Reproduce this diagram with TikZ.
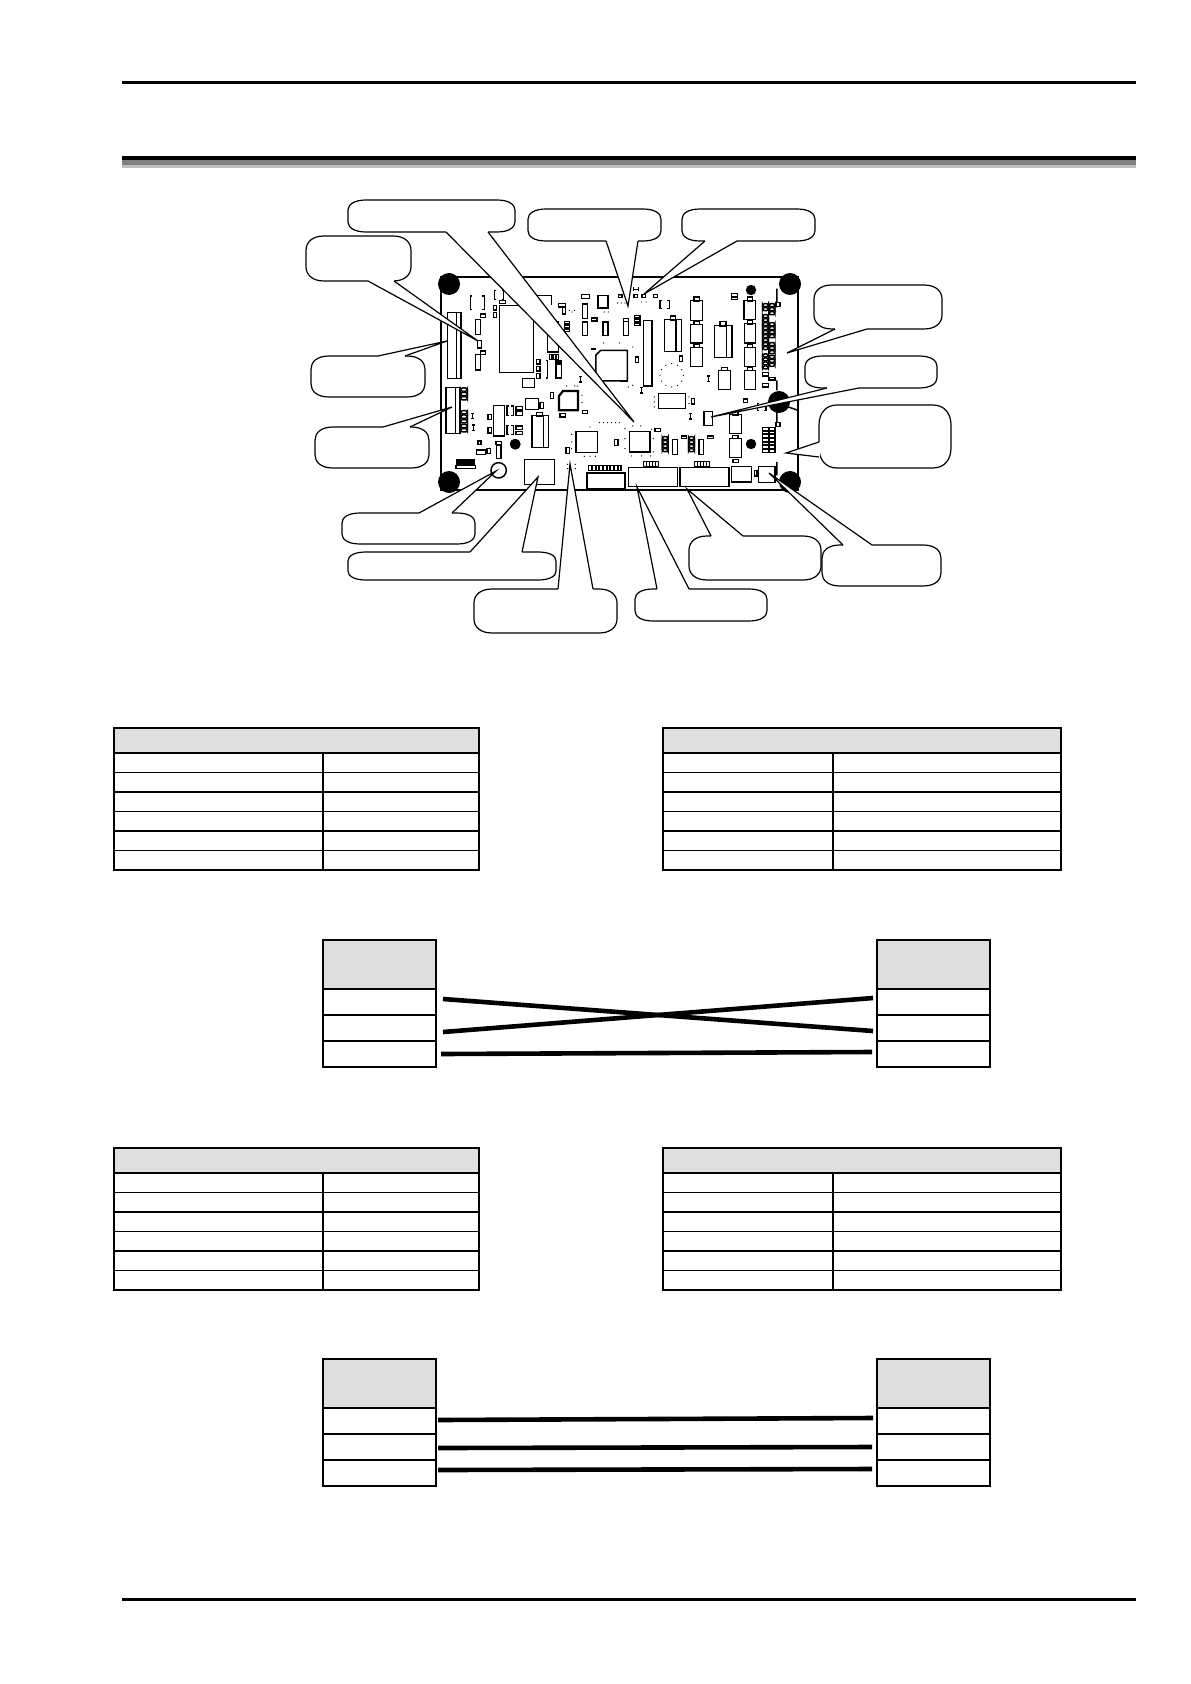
\documentclass[tikz,border=0pt]{standalone}
\usepackage{tikz}
\usetikzlibrary{positioning,calc}
\tikzset{part/.style={draw=black,line width=.75pt},
	hole/.style={fill=black},
	bubble/.style={draw=black,fill=white,line width=.6pt},
	leader/.style={draw=black,line width=.6pt,line join=miter},
	wire/.style={draw=black,line width=2.3pt},
	tablecell/.style={rectangle,draw=black,line width=.55pt,inner sep=0pt,outer sep=0pt,minimum height=9.75pt},
	tablehead/.style={tablecell,fill=black!12,minimum height=12.5pt},
	pinhead/.style={rectangle,draw=black,fill=black!13,line width=.55pt,inner sep=0pt,outer sep=0pt,minimum width=56.5pt,minimum height=24.5pt},
	pincell/.style={rectangle,draw=black,line width=.55pt,inner sep=0pt,outer sep=0pt,minimum width=56.5pt,minimum height=13pt},
}
% name, corners of the body, two base points and the tip of the pointer
\newcommand{\callout}[8]{
	\pgfmathsetmacro{\ry}{.32*(#5-#3)}
	\pgfmathsetmacro{\rc}{.45*\ry}
	\coordinate (#1tip) at (#8);
	\draw[bubble] (#2,#3+\ry) .. controls (#2,#3+\rc) and (#2+6,#3) .. (#2+18,#3) -- (#4-18,#3)
		.. controls (#4-6,#3) and (#4,#3+\rc) .. (#4,#3+\ry) -- (#4,#5-\ry)
		.. controls (#4,#5-\rc) and (#4-6,#5) .. (#4-18,#5) -- (#2+18,#5)
		.. controls (#2+6,#5) and (#2,#5-\rc) .. (#2,#5-\ry) -- cycle;
	\fill[white] (#6) -- (#1tip) -- (#7) -- cycle;
	\draw[white,line width=1.2pt] (#6) -- (#7);
	\draw[leader] (#6) -- (#1tip) -- (#7);
}
% name, top left corner, widths of the two columns
\newcommand{\datatable}[5]{
	\node[tablehead,anchor=north west,minimum width=#4pt+#5pt] (#1) at (#2,#3) {};
	\foreach \i in {0,...,5} {
		\node[tablecell,anchor=north west,minimum width=#4pt] (#1a\i) at ($(#1.south west)+(0,\i*19.5)$) {};
		\node[tablecell,anchor=north west,minimum width=#5pt] (#1b\i) at (#1a\i.north east) {};
	}
}
% name, top left corner
\newcommand{\pinblock}[3]{
	\node[pinhead,anchor=north west] (#1) at (#2,#3) {};
	\node[pincell,below=0pt of #1] (#11) {};
	\node[pincell,below=0pt of #11] (#12) {};
	\node[pincell,below=0pt of #12] (#13) {};
}

\begin{document}
\begin{tikzpicture}[x=.5pt,y=-.5pt]
	\useasboundingbox (0,0) rectangle (1190,1684);
	% page rules
	\draw[line width=1.5pt] (122,83) -- (1136,83);
	\fill[black] (122,156) rectangle (1136,160);
	\fill[black!50] (122,160) rectangle (1136,165);
	\fill[black!25] (122,165) rectangle (1136,168);
	\draw[line width=1.5pt] (122,1599) -- (1136,1599);

	% board
	\draw[line width=.9pt] (441,277) rectangle (798,490);
	\foreach \xa/\ya in {449/284,790/284,779/402,449/482,790/482}
		\fill[hole] (\xa,\ya) circle (11);
	\foreach \xa/\ya in {751/290,751/444,515/444}
		\fill[hole] (\xa,\ya) circle (5.2);

	\begin{scope}[shift={(436,272)},scale=.3333]
		\foreach \xa/\ya/\xb/\yb in {34/122/75/320,30/346/72/485,133/126/149/136,118/142/133/188,
			124/205/136/228,134/237/149/247,118/248/133/294,191/85/208/95,172/100/182/114,172/121/182/136,
			190/100/292/302,334/150/367/240,367/95/389/105,380/107/389/126,437/68/461/80,439/96/455/140,
			466/138/483/147,439/150/455/190,486/70/516/108,501/150/516/190,547/67/558/77,385/148/400/156,
			385/160/400/168,385/171/400/178,340/248/348/262,352/248/360/262,360/248/368/262,360/270/376/318,
			360/266/376/276,302/262/312/276,302/283/312/297,302/305/312/320,260/320/296/346,344/362/353/380,
			372/425/388/435,439/415/455/425,420/478/485/542,535/502/546/520,390/527/400/544,172/400/205/492,
			156/428/167/442,156/467/167/483,240/404/260/414,240/419/260/430,240/462/260/472,240/478/260/488,
			268/380/308/412,312/392/322/410,288/430/338/526,302/421/320/432,180/508/196/518,181/520/195/560,
			126/507/135/517,122/534/148/547,153/529/163/545,266/563/355/637}
			\draw[part] (\xa,\ya) rectangle (\xb,\yb);
		% dividers, pins and odd parts
		\draw[part] (62,122) -- (62,320) (58,346) -- (58,485) (322,430) -- (322,526) (300,70) -- (347,70) -- (347,100);
		\draw[part] (330,265) -- (335,265) -- (335,318) -- (330,318) (466,231) -- (480,231);
		\foreach \ya in {348,361,374,416,429,443,457,470}
			\draw[part,rounded corners=1pt] (74,\ya) rectangle (94,\ya+10);
		\foreach \xa in {458,469,...,550}
			\draw[part] (\xa,580) rectangle (\xa+9,596);
		\draw[line width=1.1pt] (452,602) rectangle (566,650);
		\draw[line width=1.1pt] (369,372) -- (381,357) -- (426,357) -- (426,415) -- (369,415) -- cycle;
		\draw[part] (494,235) -- (574,235) -- (574,327) -- (480,327) -- (480,249) -- cycle;
		\fill[black] (60,562) rectangle (118,580);
		\draw[part] (60,580) rectangle (118,590);
		\draw[part] (188,595) circle (23);
		\fill[hole] (238,517) circle (16);
		% brackets
		\foreach \xa/\ya/\xb/\yb in {103/72/145/112,175/55/203/82,213/402/232/430,213/460/232/488}
			\draw[part] (\xa+6,\ya) -- (\xa,\ya) -- (\xa,\yb) -- (\xa+6,\yb) (\xb-6,\ya) -- (\xb,\ya) -- (\xb,\yb) -- (\xb-6,\yb);
		\foreach \xa/\ya in {110/432,112/467,434/322}
			\draw[part] (\xa-5,\ya-8) -- (\xa+5,\ya-8) (\xa,\ya-8) -- (\xa,\ya+8) (\xa-5,\ya+8) -- (\xa+5,\ya+8);
		\foreach \xa/\ya in {400/115,408/120,415/115,505/120,517/120,503/213,550/213,438/370,438/392,424/342,
			392/342,416/342,490/452,502/452,514/452,526/452,538/452,550/452,462/465,407/487,407/510,407/530,
			445/553,462/553,478/553,395/577,395/590,418/577,418/590,545/93,556/93,567/93}
			\fill[black] (\xa,\ya) circle (2);
	\end{scope}

	\begin{scope}[shift={(620,272)},scale=.3333]
		\foreach \xa/\ya/\xb/\yb in {42/67/53/77,66/67/77/77,100/67/112/77,44/131/60/138,44/142/60/149,44/153/60/160,
			10/140/26/190,10/140/26/148,70/145/96/342,46/255/55/272,133/143/184/238,152/132/166/146,178/252/188/268,
			211/85/248/145,222/75/238/87,211/157/248/213,222/147/238/157,211/227/248/283,222/217/238/227,
			283/160/336/257,300/148/318/162,295/296/331/353,305/286/323/296,115/365/197/410,214/380/223/396,
			252/418/277/460,370/381/382/391,335/65/353/73,335/75/353/82,372/85/407/143,382/75/398/87,
			373/155/407/213,382/145/398/157,373/227/407/283,382/217/398/227,373/296/407/353,382/286/398/296,
			328/428/364/485,338/418/354/430,328/500/364/556,338/490/354/500,339/562/356/572,468/92/480/104,
			468/451/480/463,105/470/122/478,157/503/172/547,184/492/200/500,237/503/251/547,262/492/280/500,
			25/586/172/644,180/586/327/644,335/584/394/630,403/595/411/612,415/583/465/631,28/478/90/540,
			428/302/445/312,428/335/445/345,447/316/465/324}
			\draw[part] (\xa,\ya) rectangle (\xb,\yb);
		\draw[part] (168,143) -- (168,238) (320,160) -- (320,257) (0,235) -- (22,235) -- (22,327) -- (0,327);
		\draw[part] (471,50) -- (471,92) (471,104) -- (471,106) (471,325) -- (471,355) (471,420) -- (471,451)
			(471,570) -- (471,610) (505,405) -- (534,415);
		% pin blocks
		\foreach \ya in {95,107,128,140,152,164,176,188,200,212,224,246,258,270,282}
			\draw[part,rounded corners=1pt] (428,\ya) rectangle (445,\ya+9);
		\foreach \ya in {95,107,119,152,164,176,188,212,224,236,250,262,274}
			\draw[part,rounded corners=1pt] (447,\ya) rectangle (465,\ya+9);
		\foreach \ya in {466,477,488,499,510,521,532} {
			\draw[part] (428,\ya) rectangle (445,\ya+9);
			\draw[part] (447,\ya) rectangle (465,\ya+9);
		}
		\foreach \xa in {127,206} \foreach \ya in {494,506,518,530}
			\draw[part,rounded corners=1pt] (\xa,\ya) rectangle (\xa+17,\ya+9);
		\foreach \xa in {70,79,88,97,106,224,233,242,251,260}
			\draw[part] (\xa,568) rectangle (\xa+9,583);
		\foreach \xa/\ya/\xb/\yb in {120/85/148/110,412/395/438/415}
			\draw[part] (\xa+6,\ya) -- (\xa,\ya) -- (\xa,\yb) -- (\xa+6,\yb) (\xb-6,\ya) -- (\xb,\ya) -- (\xb,\yb) -- (\xb-6,\yb);
		\foreach \xa/\ya in {265/320,212/433,65/355}
			\draw[part] (\xa-5,\ya-8) -- (\xa+5,\ya-8) (\xa,\ya-8) -- (\xa,\ya+8) (\xa-5,\ya+8) -- (\xa+5,\ya+8);
		\draw[part] (41,45) -- (41,58) (41,52) -- (55,52) (55,45) -- (55,58);
		% dotted outlines
		\foreach \a in {0,30,...,330}
			\fill[black] ($(155,310)+(\a:35)$) circle (2);
		\foreach \xa/\ya in {0/70,22/95,65/90,78/90,38/225,38/340,25/345,15/470,38/462,62/462,95/472,100/500,100/540,
			35/552,65/552,92/552,15/500,15/530,103/375,103/390,103/405,207/375,207/395}
			\fill[black] (\xa,\ya) circle (2);
	\end{scope}

	% callouts
	\callout{flash}{348}{200}{515}{232}{446,232}{488,232}{634,422}
	\callout{ledA}{528}{209}{661}{241}{606,241}{638,241}{628,306}
	\callout{ledB}{682}{209}{815}{241}{705,241}{737,241}{644,294}
	\callout{jumper}{306}{236}{411}{281}{368,281}{394,281}{478,341}
	\callout{lcd}{311}{356}{425}{397}{378,356}{405,356}{447,341}
	\callout{keys}{315}{427}{429}{468}{383,427}{410,427}{452,407}
	\callout{buzzer}{342}{513}{475}{544}{419,513}{452,513}{496,471}
	\callout{power}{348}{552}{556}{580}{470,552}{522,552}{538,477}
	\callout{status}{474}{589}{617}{633}{558,589}{593,589}{570,464}
	\callout{portA}{635}{589}{767}{621}{657,589}{689,589}{637,487}
	\callout{portB}{689}{536}{821}{580}{711,536}{743,536}{687,489}
	\callout{relay}{822}{545}{941}{586}{843,545}{872,545}{769,473}
	\callout{output}{814}{285}{942}{329}{835,329}{867,329}{787,353}
	\callout{switch}{805}{356}{937}{388}{827,388}{859,388}{711,417}
	\callout{input}{819}{405}{951}{468}{819,442}{819,457}{786,453}

	% tables
	\datatable{tabA}{114}{728}{104.5}{78}
	\datatable{tabB}{663}{728}{85}{114}
	\datatable{tabC}{114}{1148}{104.5}{78}
	\datatable{tabD}{663}{1148}{85}{114}

	% upper cable
	\pinblock{conA}{323}{940}
	\pinblock{conB}{877}{940}
	\draw[wire] ([shift={(7,-3)}]conA1.east) -- ([shift={(-4,3)}]conB2.west);
	\draw[wire] ([shift={(7,4)}]conA2.east) -- ([shift={(-4,-4)}]conB1.west);
	\draw[wire] ([shift={(5,0)}]conA3.east) -- ([shift={(-5,-2)}]conB3.west);

	% lower cable
	\pinblock{conC}{323}{1359}
	\pinblock{conD}{877}{1359}
	\draw[wire] ([shift={(2,-1)}]conC1.east) -- ([shift={(-4,-3)}]conD1.west);
	\draw[wire] ([shift={(2,1)}]conC2.east) -- ([shift={(-5,0)}]conD2.west);
	\draw[wire] ([shift={(2,-3)}]conC3.east) -- ([shift={(-5,-4)}]conD3.west);
\end{tikzpicture}
\end{document}
